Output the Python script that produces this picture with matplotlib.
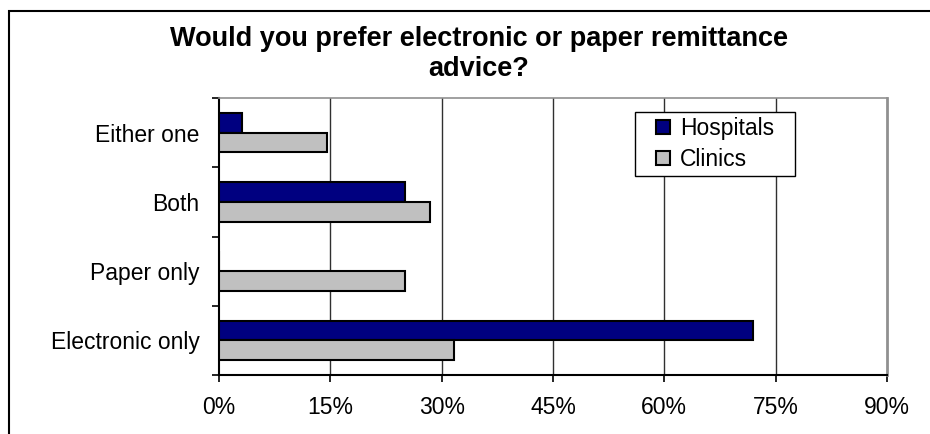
import matplotlib.pyplot as plt
from matplotlib.patches import Rectangle
import numpy as np

plt.rcParams['font.family'] = ['Liberation Sans', 'DejaVu Sans']

# Survey answers, bottom to top
categories = ['Electronic only', 'Paper only', 'Both', 'Either one']
hospitals = [72.0, 0.0, 25.0, 3.1]
clinics = [31.7, 25.1, 28.4, 14.6]
x_ticks = [0, 15, 30, 45, 60, 75, 90]
x_labels = ['0%', '15%', '30%', '45%', '60%', '75%', '90%']

W, H = 930, 434
fig = plt.figure(figsize=(W / 100, H / 100), dpi=100)

# outer chart frame (runs off the right and bottom edges)
fig.patches.append(Rectangle((9 / W, -0.2), 2.0, 1.2 - 10.7 / H, transform=fig.transFigure,
                             fill=False, edgecolor='black', linewidth=1.5))

ax = fig.add_axes([219 / W, 1 - 375 / H, (887 - 219) / W, (375 - 98) / H])

y = np.arange(len(categories))
h = 0.284
ax.barh(y + h / 2, hospitals, height=h, color='#000080', edgecolor='black',
        linewidth=1.5, label='Hospitals', zorder=3)
ax.barh(y - h / 2, clinics, height=h, color='#C0C0C0', edgecolor='black',
        linewidth=1.5, label='Clinics', zorder=3)

ax.set_xlim(0, 90)
ax.set_ylim(-0.5, 3.5)

# x axis
ax.set_xticks(x_ticks)
ax.set_xticklabels(x_labels, fontsize=16.5)
ax.tick_params(axis='x', length=5, width=1.2, pad=10, color='black')
for v in x_ticks[1:-1]:
    ax.axvline(v, color='#303030', linewidth=1.0, zorder=1)

# y axis: ticks at category boundaries, labels at centres
ax.set_yticks(np.arange(-0.5, 4.0, 1.0))
ax.set_yticklabels([])
ax.tick_params(axis='y', which='major', length=5, width=1.2, color='black')
ax.set_yticks(y, minor=True)
ax.set_yticklabels(categories, minor=True, fontsize=16.5)
ax.tick_params(axis='y', which='minor', length=0, pad=14)

ax.spines['left'].set_color('black')
ax.spines['left'].set_linewidth(1.5)
ax.spines['bottom'].set_color('black')
ax.spines['bottom'].set_linewidth(1.5)
ax.spines['top'].set_color('#909090')
ax.spines['top'].set_linewidth(1.2)
ax.spines['right'].set_color('#909090')
ax.spines['right'].set_linewidth(2.0)

fig.text(479 / W, 1 - 54 / H, 'Would you prefer electronic or paper remittance\nadvice?',
         ha='center', va='center', fontsize=19.5, fontweight='bold', linespacing=1.22)

# legend box drawn by hand so its size matches the original
ax.add_patch(Rectangle((635 / W, 1 - 176 / H), 160 / W, 64 / H, transform=fig.transFigure,
                       facecolor='white', edgecolor='black', linewidth=1.0,
                       zorder=4, clip_on=False))
leg = ax.legend(loc='upper left', bbox_to_anchor=(649 / W, 1 - 110 / H),
                bbox_transform=fig.transFigure, fontsize=16.5, frameon=False,
                borderaxespad=0, handlelength=0.6, handleheight=0.6,
                handletextpad=0.45, borderpad=0.3, labelspacing=0.35)
leg.set_zorder(5)

fig.savefig('out.png', dpi=100)
